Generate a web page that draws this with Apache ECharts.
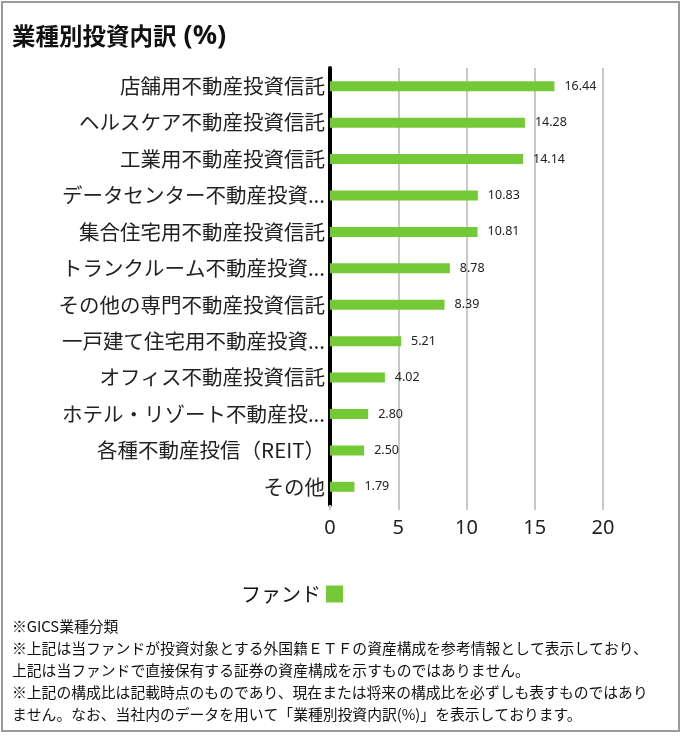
<!DOCTYPE html>
<html>
<head>
<meta charset="utf-8">
<script src="https://cdn.jsdelivr.net/npm/echarts@6/dist/echarts.min.js"></script>
<style>
html,body{margin:0;padding:0;background:#fff;}
#chart{width:683px;height:737px;}
</style>
</head>
<body>
<div id="chart"></div>
<script>
const titleMain = '業種別投資内訳';
const titleUnit = '(%)';
const categories = [
  '店舗用不動産投資信託',
  'ヘルスケア不動産投資信託',
  '工業用不動産投資信託',
  'データセンター不動産投資...',
  '集合住宅用不動産投資信託',
  'トランクルーム不動産投資...',
  'その他の専門不動産投資信託',
  '一戸建て住宅用不動産投資...',
  'オフィス不動産投資信託',
  'ホテル・リゾート不動産投...',
  '各種不動産投信（REIT）',
  'その他'
];
const fundValues = [16.44, 14.28, 14.14, 10.83, 10.81, 8.78, 8.39, 5.21, 4.02, 2.80, 2.50, 1.79];
const seriesName = 'ファンド';
const footnotes = [
  '※GICS業種分類',
  '※上記は当ファンドが投資対象とする外国籍ＥＴＦの資産構成を参考情報として表示しており、',
  '上記は当ファンドで直接保有する証券の資産構成を示すものではありません。',
  '※上記の構成比は記載時点のものであり、現在または将来の構成比を必ずしも表すものではあり',
  'ません。なお、当社内のデータを用いて「業種別投資内訳(%)」を表示しております。'
];

const FONT = "'Noto Sans CJK JP', 'Noto Sans', sans-serif";
const chart = echarts.init(document.getElementById('chart'), null, {renderer: 'canvas'});

const graphics = [
  {type: 'rect', shape: {x: 2, y: 2, width: 677, height: 729}, style: {fill: 'none', stroke: '#9a9a9a', lineWidth: 2}, silent: true},
  {type: 'text', left: 12, top: 23, style: {
    text: '{a|' + titleMain + '}{b|' + titleUnit + '}',
    rich: {
      a: {fontSize: 23.5, fontWeight: 'bold', fontFamily: FONT, fill: '#111', color: '#111', verticalAlign: 'middle'},
      b: {fontSize: 27, fontWeight: 'bold', fontFamily: "'Noto Sans', sans-serif", fill: '#111', color: '#111', padding: [0, 0, 0, 7], verticalAlign: 'middle'}
    }
  }}
];
footnotes.forEach((t, i) => {
  graphics.push({type: 'text', left: 12, top: 619 + i * 22, style: {text: t, font: "14.8px " + FONT, fill: '#111'}});
});

chart.setOption({
  animation: false,
  textStyle: {fontFamily: FONT},
  graphic: graphics,
  legend: {
    data: [seriesName],
    left: 236, top: 579,
    icon: 'rect', itemWidth: 17, itemHeight: 17, align: 'right', itemGap: 10,
    textStyle: {fontSize: 20, color: '#111', fontFamily: FONT}
  },
  grid: {left: 330, right: 80, top: 68, bottom: 232, containLabel: false},
  xAxis: {
    type: 'value', min: 0, max: 20, interval: 5,
    axisLine: {show: false},
    axisTick: {show: true, length: 5, lineStyle: {color: '#c8c8c8', width: 2}},
    splitLine: {show: true, lineStyle: {color: '#c8c8c8', width: 2}},
    axisLabel: {fontSize: 20, color: '#222', margin: 13, fontFamily: "'Noto Sans', sans-serif"}
  },
  yAxis: {
    type: 'category', data: categories, inverse: true,
    axisLine: {show: true, lineStyle: {color: '#000', width: 4}},
    axisTick: {show: false},
    axisLabel: {fontSize: 20.5, color: '#222', margin: 5, fontFamily: FONT}
  },
  series: [{
    name: seriesName, type: 'bar', data: fundValues,
    barWidth: 10,
    itemStyle: {color: '#74C936'},
    label: {show: true, position: 'right', distance: 10, fontSize: 12.5, color: '#222',
      fontFamily: "'Noto Sans', sans-serif",
      formatter: p => p.value.toFixed(2)}
  }]
});
</script>
</body>
</html>
